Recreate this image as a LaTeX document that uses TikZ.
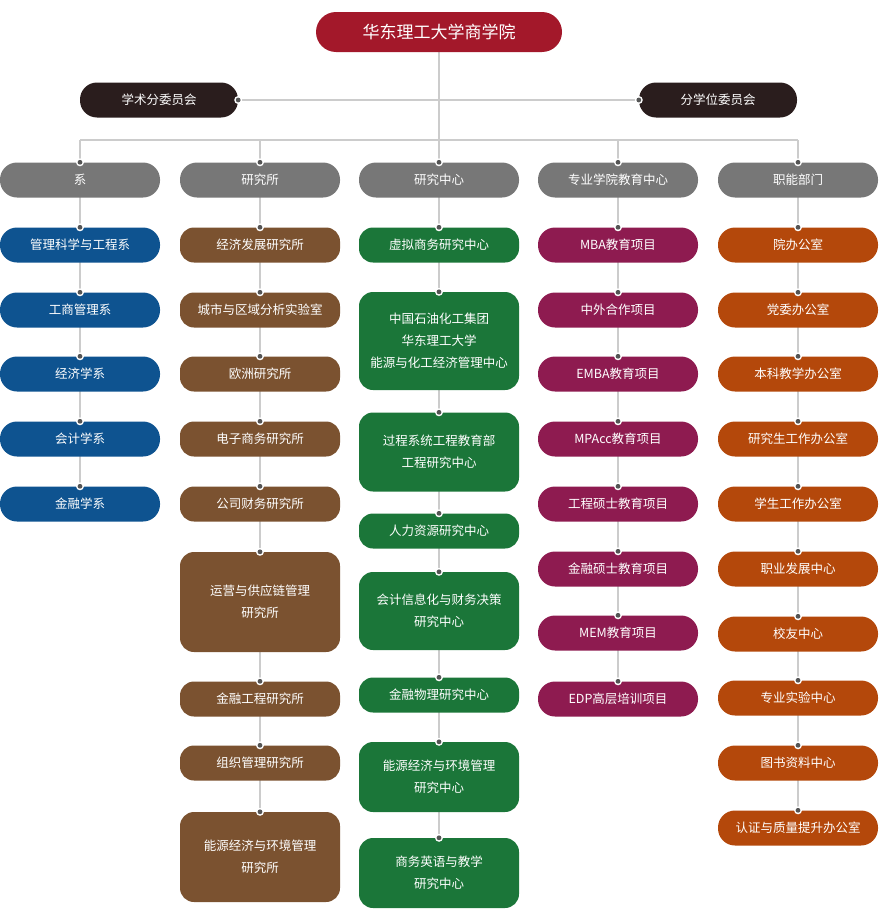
\documentclass[tikz,border=0pt]{standalone}
\usepackage{fontspec}
\setmainfont{Noto Sans CJK SC}
\definecolor{lc}{HTML}{CCCCCC}
\definecolor{dc}{HTML}{555555}
\definecolor{cred}{HTML}{A3182A}
\definecolor{cblk}{HTML}{2A1D1D}
\definecolor{cgry}{HTML}{777777}
\definecolor{cblu}{HTML}{0E5390}
\definecolor{cbrn}{HTML}{7B5230}
\definecolor{cgrn}{HTML}{1B7639}
\definecolor{cmag}{HTML}{8E1B50}
\definecolor{corg}{HTML}{B4480B}
\tikzset{
 box/.style={text=white,minimum width=160pt,minimum height=35pt,rounded corners=17pt,inner sep=0pt,align=center,font=\fontsize{12.5}{22}\selectfont},
 tall/.style={box,rounded corners=14pt},
 ln/.style={draw=lc,line width=2.2pt},
}
\newcommand{\jdot}[1]{\fill[white] (#1) circle (4pt); \fill[dc] (#1) circle (2.4pt);}
\begin{document}
\begin{tikzpicture}[x=1pt,y=-1pt]
\useasboundingbox (0,0) rectangle (878,910);
% column lines
\draw[ln] (439,32) -- (439,140);
\draw[ln] (238,100) -- (640,100);
\draw[ln] (80,140) -- (798,140);
\foreach \x/\b in {80/504,260/857,439/873,618/699,798/828} \draw[ln] (\x,140) -- (\x,\b);
% nodes
\node[box,fill=cred,minimum width=246pt,minimum height=40pt,rounded corners=20pt,font=\fontsize{17}{20}\selectfont] (top) at (439,32) {华东理工大学商学院};
\node[box,fill=cblk,minimum width=158pt] (xs) at (159,100) {学术分委员会};
\node[box,fill=cblk,minimum width=158pt] (fx) at (718,100) {分学位委员会};
\jdot{xs.east} \jdot{fx.west}
\foreach \x/\t/\n in {80/系/h1,260/研究所/h2,439/研究中心/h3,618/专业学院教育中心/h4,798/职能部门/h5}{
 \node[box,fill=cgry] (\n) at (\x,180) {\t}; \jdot{\n.north}}
\foreach \y/\t [count=\i] in {245/管理科学与工程系,310/工商管理系,374/经济学系,439/会计学系,504/金融学系}{
 \node[box,fill=cblu] (a\i) at (80,\y) {\t}; \jdot{a\i.north}}
\foreach \y/\t/\h [count=\i] in {245/经济发展研究所/35,310/城市与区域分析实验室/35,374/欧洲研究所/35,439/电子商务研究所/35,504/公司财务研究所/35,602/{运营与供应链管理\\研究所}/100,699/金融工程研究所/35,763/组织管理研究所/35,857/{能源经济与环境管理\\研究所}/90}{
 \node[tall,fill=cbrn,minimum height=\h pt] (b\i) at (260,\y) {\t}; \jdot{b\i.north}}
\foreach \y/\t/\h [count=\i] in {245/虚拟商务研究中心/35,341/{中国石油化工集团\\华东理工大学\\能源与化工经济管理中心}/98,452/{过程系统工程教育部\\工程研究中心}/79,531/人力资源研究中心/35,611/{会计信息化与财务决策\\研究中心}/78,695/金融物理研究中心/35,777/{能源经济与环境管理\\研究中心}/70,873/{商务英语与教学\\研究中心}/70}{
 \node[tall,fill=cgrn,minimum height=\h pt] (c\i) at (439,\y) {\t}; \jdot{c\i.north}}
\foreach \y/\t [count=\i] in {245/MBA教育项目,310/中外合作项目,374/EMBA教育项目,439/MPAcc教育项目,504/工程硕士教育项目,569/金融硕士教育项目,633/MEM教育项目,699/EDP高层培训项目}{
 \node[box,fill=cmag] (d\i) at (618,\y) {\t}; \jdot{d\i.north}}
\foreach \y/\t [count=\i] in {245/院办公室,310/党委办公室,374/本科教学办公室,439/研究生工作办公室,504/学生工作办公室,569/职业发展中心,634/校友中心,698/专业实验中心,763/图书资料中心,828/认证与质量提升办公室}{
 \node[box,fill=corg] (e\i) at (798,\y) {\t}; \jdot{e\i.north}}
\end{tikzpicture}
\end{document}
